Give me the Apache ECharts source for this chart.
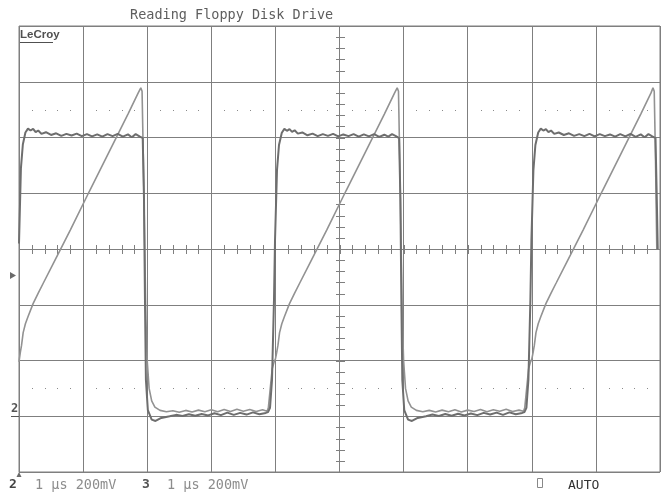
<!DOCTYPE html>
<html><head><meta charset="utf-8">
<script src="https://cdn.jsdelivr.net/npm/echarts@6/dist/echarts.min.js"></script>
<style>html,body{margin:0;padding:0;background:#fff;}#c{width:668px;height:497px;}</style>
</head><body><div id="c"></div>
<script>
// ---- data (time in µs, 1 µs/div; voltage in mV relative to screen centre, 200 mV/div) ----
const titleText = 'Reading Floppy Disk Drive';
const timeRange = [0, 10];
const timeStep = 1;
const voltRange = [-800, 800];
const voltStep = 200;
const minorPerDiv = 5;
const dottedLevels = [500, -500];
const triggerLevel = -95;
const ch2Ground = -600;
const ch2Label = '2';
const ch3Label = '3';
const ch2Scale = '1 µs 200mV';
const ch3Scale = '1 µs 200mV';
const triggerMode = 'AUTO';

// Channel 2: square wave
const ch2 = [
[0.00,20],[0.03,290],[0.06,375],[0.10,418],[0.14,432],[0.18,425],[0.22,431],[0.26,419],[0.30,425],[0.35,413],
[0.42,419],[0.50,409],[0.58,415],[0.66,406],[0.74,413],[0.82,407],[0.90,414],[0.98,405],[1.06,412],[1.14,404],
[1.22,411],[1.30,403],[1.38,412],[1.46,405],[1.54,413],[1.62,403],[1.70,411],[1.76,401],[1.82,412],[1.88,404],
[1.93,398],[1.95,180],[1.965,-180],[1.98,-470],[2.01,-578],[2.07,-612],[2.13,-617],[2.22,-606],[2.35,-600],
[2.45,-595],[2.55,-599],[2.65,-593],[2.75,-598],[2.85,-592],[2.95,-597],[3.05,-589],[3.15,-596],[3.25,-587],
[3.35,-595],[3.45,-588],[3.55,-594],[3.65,-586],[3.75,-593],[3.85,-588],
[3.885,-585],[3.916,-570],[3.947,-470],[3.978,-183],[3.994,32],[4.025,283],[4.056,373],[4.10,417],[4.14,431],
[4.18,424],[4.22,430],[4.26,420],[4.30,426],[4.35,414],[4.42,418],[4.50,408],[4.58,414],[4.66,405],[4.74,412],
[4.82,406],[4.90,413],[4.98,404],[5.06,411],[5.14,405],[5.22,412],[5.30,403],[5.38,411],[5.46,404],[5.54,412],
[5.62,402],[5.70,410],[5.76,403],[5.82,412],[5.88,405],
[5.93,398],[5.95,180],[5.965,-180],[5.98,-470],[6.01,-578],[6.07,-612],[6.13,-617],[6.22,-606],[6.35,-600],
[6.45,-594],[6.55,-599],[6.65,-592],[6.75,-598],[6.85,-591],[6.95,-597],[7.05,-590],[7.15,-596],[7.25,-588],
[7.35,-594],[7.45,-587],[7.55,-595],[7.65,-586],[7.75,-593],[7.85,-588],
[7.885,-585],[7.916,-570],[7.947,-470],[7.978,-183],[7.994,32],[8.025,283],[8.056,373],[8.10,418],[8.14,432],
[8.18,425],[8.22,430],[8.26,419],[8.30,425],[8.35,413],[8.42,418],[8.50,409],[8.58,415],[8.66,406],[8.74,412],
[8.82,405],[8.90,413],[8.98,404],[9.06,412],[9.14,405],[9.22,411],[9.30,403],[9.38,412],[9.46,404],[9.54,413],
[9.62,402],[9.70,411],[9.76,401],[9.82,412],[9.88,404],
[9.93,398],[9.95,180],[9.965,0]
];

// Channel 3: ramp
const ch3 = [
[0.00,-405],[0.02,-372],[0.04,-345],[0.065,-300],[0.10,-268],[0.14,-243],[0.22,-196],[0.30,-158],[0.38,-122],
[0.55,-45],[0.80,68],[1.10,208],[1.40,346],[1.70,484],[1.86,560],[1.90,578],[1.92,566],[1.94,320],[1.96,30],
[1.98,-250],[2.00,-400],[2.03,-500],[2.07,-545],[2.12,-567],[2.20,-579],[2.30,-584],
[2.40,-580],[2.50,-586],[2.60,-579],[2.70,-585],[2.80,-578],[2.90,-584],[3.00,-577],[3.10,-584],[3.20,-576],
[3.30,-583],[3.40,-575],[3.50,-582],[3.60,-576],[3.70,-583],[3.80,-577],[3.87,-582],
[3.89,-570],[3.92,-500],[3.95,-430],[3.98,-405],[4.00,-395],[4.02,-372],[4.04,-345],[4.065,-300],[4.10,-268],
[4.14,-243],[4.22,-196],[4.30,-158],[4.38,-122],[4.55,-45],[4.80,68],[5.10,208],[5.40,346],[5.70,484],
[5.86,560],[5.90,578],[5.92,566],[5.94,320],[5.96,30],[5.98,-250],[6.00,-400],[6.03,-500],[6.07,-545],
[6.12,-567],[6.20,-579],[6.30,-584],
[6.40,-579],[6.50,-585],[6.60,-578],[6.70,-584],[6.80,-577],[6.90,-585],[7.00,-578],[7.10,-583],[7.20,-576],
[7.30,-584],[7.40,-577],[7.50,-582],[7.60,-575],[7.70,-583],[7.80,-578],[7.87,-582],
[7.89,-570],[7.92,-500],[7.95,-430],[7.98,-405],[8.00,-395],[8.02,-372],[8.04,-345],[8.065,-300],[8.10,-268],
[8.14,-243],[8.22,-196],[8.30,-158],[8.38,-122],[8.55,-45],[8.80,68],[9.10,208],[9.40,346],[9.70,484],
[9.86,560],[9.89,578],[9.91,566],[9.93,320],[9.95,0]
];

// ---- styles ----
const gridColor = '#7f7f7f';
const mono = '"DejaVu Sans Mono", "Liberation Mono", monospace';

function decorations(params, api) {
  const kids = [];
  const tickLen = 4;
  const [t0, t1] = timeRange, [v0, v1] = voltRange;
  const tc = (t0 + t1) / 2, vc = (v0 + v1) / 2;
  const tMinor = timeStep / minorPerDiv, vMinor = voltStep / minorPerDiv;
  const nT = Math.round((t1 - t0) / tMinor), nV = Math.round((v1 - v0) / vMinor);
  for (let i = 0; i <= nT; i++) {
    const p = api.coord([t0 + i * tMinor, vc]);
    const x = Math.round(p[0]) + 0.5, y = Math.round(p[1]);
    kids.push({type: 'line', shape: {x1: x, y1: y - tickLen, x2: x, y2: y + tickLen + 1},
      style: {stroke: gridColor, lineWidth: 1}});
  }
  for (let j = 0; j <= nV; j++) {
    const p = api.coord([tc, v0 + j * vMinor]);
    const x = Math.round(p[0]), y = Math.round(p[1]) + 0.5;
    kids.push({type: 'line', shape: {x1: x - tickLen, y1: y, x2: x + tickLen + 1, y2: y},
      style: {stroke: gridColor, lineWidth: 1}});
  }
  dottedLevels.forEach(lv => {
    for (let i = 1; i < nT; i++) {
      if (i % minorPerDiv === 0) continue;
      const p = api.coord([t0 + i * tMinor, lv]);
      kids.push({type: 'rect', shape: {x: Math.round(p[0]), y: Math.round(p[1]), width: 1, height: 1},
        style: {fill: '#8a8a8a'}});
    }
  });
  const tr = api.coord([t0, triggerLevel]);
  kids.push({type: 'polygon', shape: {points: [[tr[0] - 9, tr[1] - 3.5], [tr[0] - 3, tr[1]], [tr[0] - 9, tr[1] + 3.5]]},
    style: {fill: '#6a6a6a'}});
  const gp = api.coord([t0, ch2Ground]);
  kids.push({type: 'line', shape: {x1: gp[0] - 8, y1: Math.round(gp[1]) + 0.5, x2: gp[0], y2: Math.round(gp[1]) + 0.5},
    style: {stroke: '#555', lineWidth: 1}});
  kids.push({type: 'text', x: gp[0] - 4.5, y: gp[1] - 1,
    style: {text: ch2Label, fill: '#555', font: 'bold 12px ' + mono, align: 'center', verticalAlign: 'bottom'}});
  const bp = api.coord([t0, v0]);
  kids.push({type: 'polygon', shape: {points: [[bp[0], bp[1]], [bp[0] - 2.5, bp[1] + 5], [bp[0] + 2.5, bp[1] + 5]]},
    style: {fill: '#6a6a6a'}});
  return {type: 'group', children: kids};
}

const chart = echarts.init(document.getElementById('c'), null, {renderer: 'canvas'});
chart.setOption({
  animation: false,
  backgroundColor: '#fff',
  title: {
    text: titleText, left: 125, top: 3,
    textStyle: {fontFamily: mono, fontSize: 13.5, fontWeight: 'normal', color: '#5e5e5e'}
  },
  grid: {left: 19, right: 8, top: 26, bottom: 25, show: true, borderColor: gridColor, borderWidth: 1},
  xAxis: {
    type: 'value', min: timeRange[0], max: timeRange[1], interval: timeStep,
    axisLine: {show: false}, axisTick: {show: false}, axisLabel: {show: false},
    splitLine: {show: true, lineStyle: {color: gridColor, width: 1}}
  },
  yAxis: {
    type: 'value', min: voltRange[0], max: voltRange[1], interval: voltStep,
    axisLine: {show: false}, axisTick: {show: false}, axisLabel: {show: false},
    splitLine: {show: true, lineStyle: {color: gridColor, width: 1}}
  },
  series: [
    {type: 'custom', renderItem: decorations, data: [[0, 0]], clip: false, silent: true, z: 1},
    {name: ch3Label, type: 'line', data: ch3, showSymbol: false, z: 3,
      lineStyle: {color: '#929292', width: 1.6}},
    {name: ch2Label, type: 'line', data: ch2, showSymbol: false, z: 4,
      lineStyle: {color: '#6e6e6e', width: 2}}
  ],
  graphic: [
    {type: 'text', left: 20, top: 29, z: 10,
      style: {text: 'LeCroy', font: 'bold 11.5px "Liberation Sans", Arial, sans-serif', fill: '#505050'}},
    {type: 'line', z: 10, shape: {x1: 20, y1: 42.5, x2: 53, y2: 42.5}, style: {stroke: '#505050', lineWidth: 1}},
    {type: 'text', left: 9, top: 478,
      style: {text: ch2Label, font: 'bold 13px ' + mono, fill: '#444'}},
    {type: 'text', left: 35, top: 478,
      style: {text: ch2Scale, font: '13.5px ' + mono, fill: '#8c8c8c'}},
    {type: 'text', left: 142, top: 478,
      style: {text: ch3Label, font: 'bold 13px ' + mono, fill: '#555'}},
    {type: 'text', left: 167, top: 478,
      style: {text: ch3Scale, font: '13.5px ' + mono, fill: '#8c8c8c'}},
    {type: 'rect', shape: {x: 537.5, y: 478.5, width: 5, height: 9}, style: {fill: 'none', stroke: '#888', lineWidth: 1}},
    {type: 'text', left: 568, top: 479,
      style: {text: triggerMode, font: '13px ' + mono, fill: '#333'}}
  ]
});
</script>
</body></html>
